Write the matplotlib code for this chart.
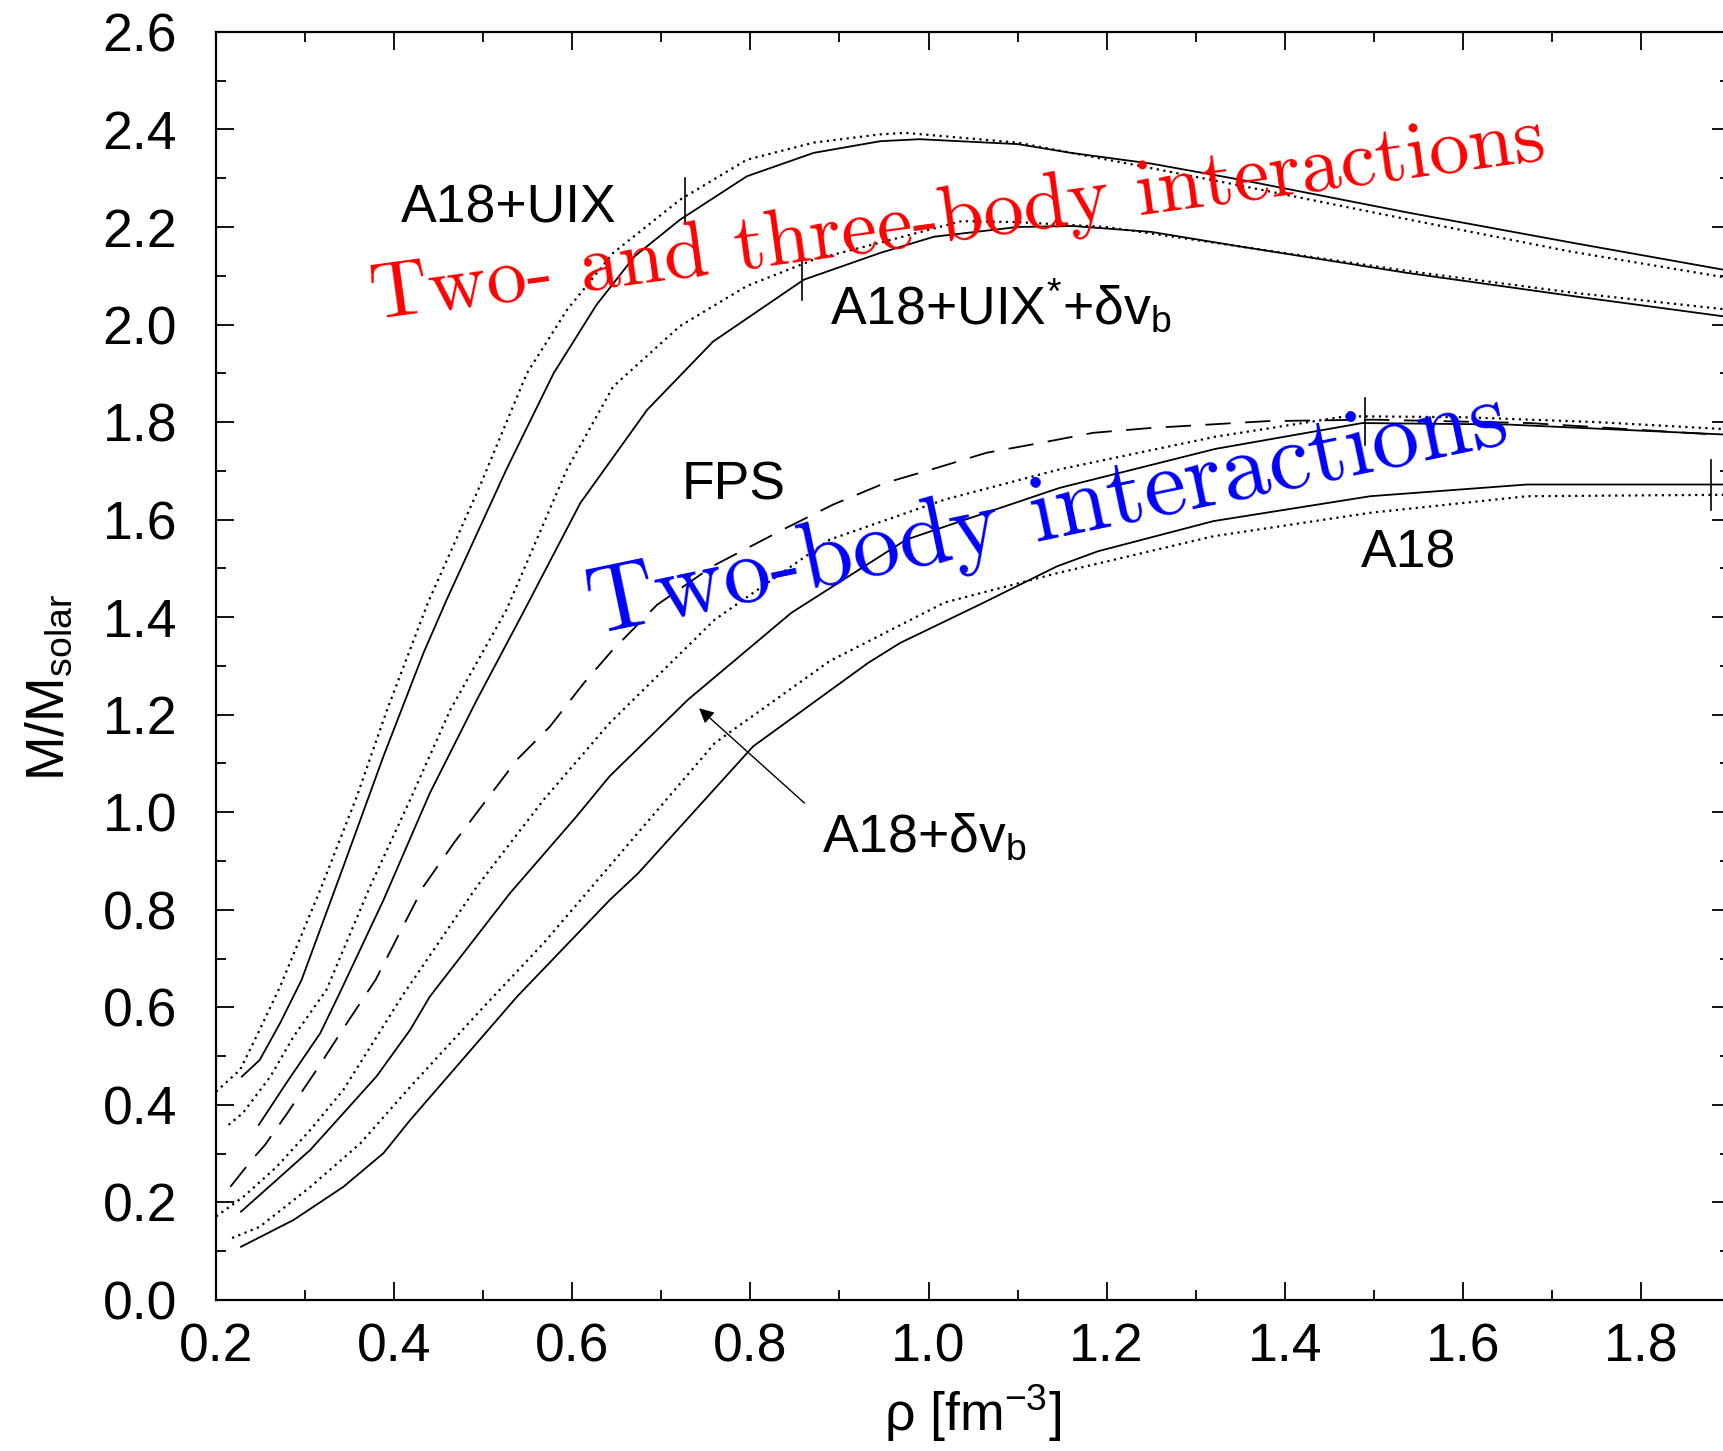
import matplotlib

matplotlib.use("Agg")

import matplotlib.pyplot as plt

plt.rcParams["font.family"] = ["Liberation Sans", "DejaVu Sans"]
plt.rcParams["mathtext.fontset"] = "custom"
plt.rcParams["mathtext.rm"] = "Liberation Sans"
plt.rcParams["mathtext.it"] = "Liberation Sans:italic"

# mass vs central density
uix_sol_x = [0.229, 0.249, 0.272, 0.296, 0.343, 0.388, 0.433, 0.459, 0.526, 0.579, 0.627,
             0.67, 0.721, 0.796, 0.871, 0.946, 0.99, 1.10, 1.16, 1.25, 1.35, 1.54, 1.725, 1.90]
uix_sol_y = [0.458, 0.492, 0.568, 0.656, 0.889, 1.115, 1.327, 1.436, 1.703, 1.90, 2.04,
             2.14, 2.215, 2.304, 2.352, 2.376, 2.38, 2.37, 2.352, 2.33, 2.297, 2.229, 2.167, 2.11]

uix_dot_x = [0.20, 0.227, 0.249, 0.272, 0.317, 0.358, 0.392, 0.438, 0.496, 0.549, 0.594,
             0.646, 0.721, 0.796, 0.871, 0.946, 0.974, 1.10, 1.224, 1.35, 1.54, 1.72, 1.90]
uix_dot_y = [0.427, 0.472, 0.554, 0.643, 0.841, 1.032, 1.21, 1.43, 1.668, 1.90, 2.03,
             2.147, 2.256, 2.338, 2.373, 2.39, 2.393, 2.373, 2.33, 2.285, 2.215, 2.15, 2.095]

uixs_sol_x = [0.248, 0.279, 0.317, 0.339, 0.388, 0.44, 0.493, 0.545, 0.609, 0.684, 0.758,
              0.86, 0.946, 1.006, 1.10, 1.162, 1.25, 1.35, 1.537, 1.725, 1.90]
uixs_sol_y = [0.359, 0.445, 0.547, 0.63, 0.82, 1.039, 1.231, 1.41, 1.634, 1.825, 1.965,
              2.092, 2.147, 2.18, 2.20, 2.202, 2.19, 2.16, 2.106, 2.058, 2.015]

uixs_dot_x = [0.214, 0.23, 0.261, 0.287, 0.324, 0.373, 0.418, 0.463, 0.526, 0.594, 0.646,
              0.721, 0.796, 0.871, 0.946, 1.037, 1.10, 1.20, 1.35, 1.537, 1.725, 1.90]
uixs_dot_y = [0.359, 0.383, 0.458, 0.54, 0.636, 0.848, 1.026, 1.21, 1.415, 1.703, 1.873,
              1.997, 2.079, 2.133, 2.168, 2.212, 2.21, 2.20, 2.16, 2.11, 2.065, 2.03]

fps_x = [0.216, 0.24, 0.255, 0.28, 0.313, 0.347, 0.379, 0.433, 0.467, 0.538, 0.575, 0.613,
         0.644, 0.695, 0.758, 0.837, 0.893, 0.951, 1.009, 1.065, 1.125, 1.185, 1.25, 1.381,
         1.499, 1.675, 1.888]
fps_y = [0.232, 0.287, 0.318, 0.383, 0.472, 0.568, 0.656, 0.848, 0.937, 1.108, 1.176, 1.265,
         1.33, 1.425, 1.505, 1.58, 1.631, 1.675, 1.706, 1.737, 1.757, 1.778, 1.788, 1.802,
         1.805, 1.798, 1.774]

dvb_sol_x = [0.228, 0.268, 0.306, 0.343, 0.38, 0.418, 0.44, 0.53, 0.605, 0.642, 0.73, 0.846,
             0.975, 1.147, 1.322, 1.487, 1.65, 1.90]
dvb_sol_y = [0.181, 0.246, 0.308, 0.383, 0.458, 0.554, 0.622, 0.834, 0.992, 1.074, 1.231,
             1.409, 1.559, 1.665, 1.745, 1.798, 1.795, 1.774]

dvb_dot_x = [0.20, 0.231, 0.268, 0.306, 0.343, 0.41, 0.493, 0.568, 0.642, 0.76, 0.889,
             1.018, 1.147, 1.322, 1.469, 1.60, 1.75, 1.90]
dvb_dot_y = [0.171, 0.212, 0.273, 0.349, 0.431, 0.626, 0.848, 1.026, 1.183, 1.395, 1.559,
             1.641, 1.703, 1.77, 1.812, 1.81, 1.80, 1.785]

a18_sol_x = [0.228, 0.287, 0.343, 0.388, 0.418, 0.538, 0.642, 0.674, 0.803, 0.932, 0.968,
             1.061, 1.144, 1.19, 1.32, 1.496, 1.672, 1.90]
a18_sol_y = [0.109, 0.164, 0.232, 0.301, 0.369, 0.622, 0.82, 0.875, 1.135, 1.306, 1.347,
             1.429, 1.504, 1.535, 1.597, 1.648, 1.672, 1.672]

a18_dot_x = [0.218, 0.249, 0.306, 0.362, 0.418, 0.50, 0.568, 0.642, 0.76, 0.889, 1.018,
             1.144, 1.32, 1.496, 1.672, 1.90]
a18_dot_y = [0.127, 0.15, 0.232, 0.321, 0.437, 0.60, 0.732, 0.89, 1.142, 1.31, 1.43,
             1.49, 1.566, 1.614, 1.648, 1.651]

# short vertical marks crossing the curves
mark_x = [0.727, 0.858, 1.49, 1.879]
mark_lo = [2.21, 2.05, 1.754, 1.62]
mark_hi = [2.30, 2.15, 1.85, 1.723]

fig = plt.figure(figsize=(17.23, 14.51), dpi=100)
ax = fig.add_axes([0.1254, 0.1041, 0.8787, 0.8739])

dot = (0, (1.0, 2.0))
lw = 1.3
dlw = 1.6
ax.plot(uix_sol_x, uix_sol_y, "k-", lw=lw)
ax.plot(uix_dot_x, uix_dot_y, "k", ls=dot, lw=dlw)
ax.plot(uixs_sol_x, uixs_sol_y, "k-", lw=lw)
ax.plot(uixs_dot_x, uixs_dot_y, "k", ls=dot, lw=dlw)
ax.plot(fps_x, fps_y, "k", ls=(0, (14, 8)), lw=lw)
ax.plot(dvb_sol_x, dvb_sol_y, "k-", lw=lw)
ax.plot(dvb_dot_x, dvb_dot_y, "k", ls=dot, lw=dlw)
ax.plot(a18_sol_x, a18_sol_y, "k-", lw=lw)
ax.plot(a18_dot_x, a18_dot_y, "k", ls=dot, lw=dlw)

for x, lo, hi in zip(mark_x, mark_lo, mark_hi):
    ax.plot([x, x], [lo, hi], "k-", lw=1.2)

ax.annotate("", xy=(0.74, 1.217), xytext=(0.863, 1.015),
            arrowprops=dict(arrowstyle="-|>", lw=1.0, color="k", mutation_scale=22))

fs = 38.5
ax.text(0.408, 2.209, "A18+UIX", fontsize=fs)
ax.text(0.889, 2.0, "A18+UIX$^{*}$+δv$_\\mathrm{b}$", fontsize=fs)
ax.text(0.723, 1.641, "FPS", fontsize=fs)
ax.text(1.485, 1.502, "A18", fontsize=fs)
ax.text(0.88, 0.92, "A18+δv$_\\mathrm{b}$", fontsize=fs)

ax.text(0.377, 2.008, "Two- and three-body interactions", color="red", fontsize=58,
        family="cmr10", rotation=7.8, rotation_mode="anchor", ha="left", va="baseline")
ax.text(0.624, 1.364, "Two-body interactions", color="blue", fontsize=68.5,
        family="cmr10", rotation=11.8, rotation_mode="anchor", ha="left", va="baseline")

ax.set_xlim(0.2, 1.9)
ax.set_ylim(0.0, 2.6)
ax.set_xticks([0.2, 0.4, 0.6, 0.8, 1.0, 1.2, 1.4, 1.6, 1.8])
ax.set_xticks([0.3, 0.5, 0.7, 0.9, 1.1, 1.3, 1.5, 1.7, 1.9], minor=True)
ax.set_yticks([i * 0.2 for i in range(14)])
ax.set_yticks([0.1 + i * 0.2 for i in range(13)], minor=True)
ax.xaxis.set_major_formatter(matplotlib.ticker.FormatStrFormatter("%.1f"))
ax.yaxis.set_major_formatter(matplotlib.ticker.FormatStrFormatter("%.1f"))
ax.tick_params(which="both", direction="in", top=True, right=True, width=1.3)
ax.tick_params(which="major", length=13, labelsize=fs)
ax.tick_params(which="minor", length=7)
ax.tick_params(axis="x", which="major", pad=16)
ax.tick_params(axis="y", which="major", pad=28)
for s in ax.spines.values():
    s.set_linewidth(1.6)

ax.set_xlabel("ρ [fm$^{-3}$]", fontsize=fs, labelpad=8)
ax.set_ylabel("M/M$_\\mathrm{solar}$", fontsize=fs, labelpad=20)
ax.yaxis.label.set_y(0.483)

fig.savefig("out.png", dpi=100)
